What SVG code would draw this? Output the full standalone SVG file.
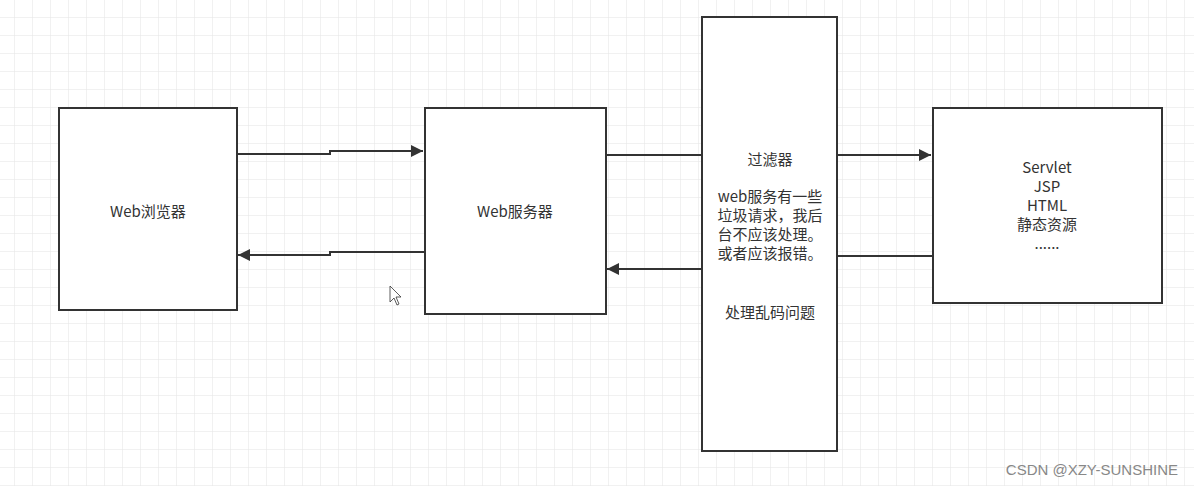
<svg xmlns="http://www.w3.org/2000/svg" width="1194" height="486" viewBox="0 0 1194 486">
<defs>
<pattern id="grid" x="14" y="17" width="18" height="18" patternUnits="userSpaceOnUse">
<path d="M0 0H18M0 0V18" fill="none" stroke="#e3e3e3" stroke-width="1"/>
</pattern>
<marker id="ah" viewBox="0 0 10 10" refX="10" refY="5" markerWidth="9" markerHeight="6" markerUnits="strokeWidth" orient="auto">
<path d="M0 0L10 5L0 10z" fill="#333"/>
</marker>
<style>
.box{fill:#fff;stroke:#333;stroke-width:2}
.t{font-family:"Microsoft YaHei","Noto Sans CJK SC",sans-serif;font-size:15px;fill:#333;text-anchor:middle}
.c{fill:none;stroke:#333;stroke-width:2}
</style>
</defs>
<rect width="1194" height="486" fill="#fff"/>
<rect width="1194" height="486" fill="url(#grid)"/>
<g id="connectors">
<path class="c" d="M237 154H330V151H423" marker-end="url(#ah)"/>
<path class="c" d="M424 252H330V255H238" marker-end="url(#ah)"/>
<path class="c" d="M606 155H702"/>
<path class="c" d="M702 269H607" marker-end="url(#ah)"/>
<path class="c" d="M837 155H931" marker-end="url(#ah)"/>
<path class="c" d="M932 256H837"/>
</g>
<g id="browser">
<rect class="box" x="59" y="108" width="178" height="202"/>
<text class="t" x="148" y="217">Web浏览器</text>
</g>
<g id="server">
<rect class="box" x="425" y="108" width="181" height="206"/>
<text class="t" x="515" y="217">Web服务器</text>
</g>
<g id="filter">
<rect class="box" x="702" y="17" width="135" height="434"/>
<text class="t" x="770" y="165">过滤器</text>
<text class="t" x="770" y="202">web服务有一些</text>
<text class="t" x="770" y="221">垃圾请求，我后</text>
<text class="t" x="770" y="240">台不应该处理。</text>
<text class="t" x="770" y="259">或者应该报错。</text>
<text class="t" x="770" y="318">处理乱码问题</text>
</g>
<g id="resources">
<rect class="box" x="933" y="108" width="229" height="195"/>
<text class="t" x="1047" y="173">Servlet</text>
<text class="t" x="1047" y="192">JSP</text>
<text class="t" x="1047" y="211">HTML</text>
<text class="t" x="1047" y="230">静态资源</text>
<text class="t" x="1047" y="249">......</text>
</g>
<path d="M390 286V302L394 298L397 305L399 304L396 297H401Z" fill="#fff" stroke="#333" stroke-width="0.8"/>
<text x="1178" y="475" font-family="'Liberation Sans',Arial,sans-serif" font-size="15" fill="#888" text-anchor="end">CSDN @XZY-SUNSHINE</text>
</svg>
